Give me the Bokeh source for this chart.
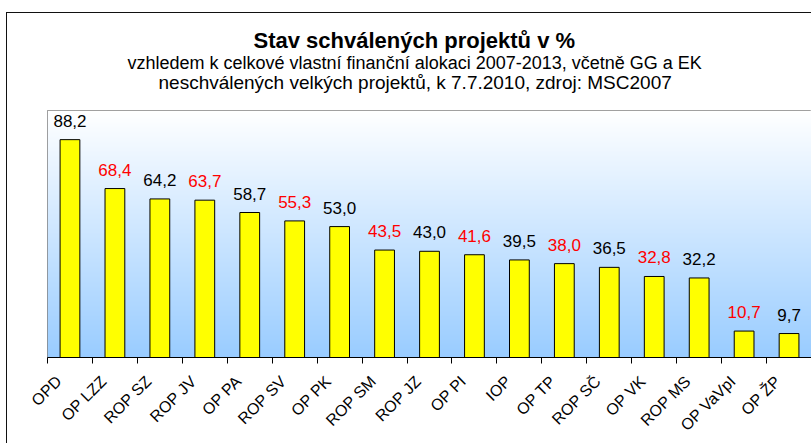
import numpy as np
from bokeh.plotting import figure
from bokeh.models import (Range1d, FixedTicker, Title, InlineStyleSheet,
                          CustomJSTickFormatter, ColumnDataSource)
from bokeh.core.properties import value
from bokeh.embed import file_html
from bokeh.resources import INLINE

# ---------------- data ----------------
categories = ["OPD", "OP LZZ", "ROP SZ", "ROP JV", "OP PA", "ROP SV", "OP PK",
              "ROP SM", "ROP JZ", "OP PI", "IOP", "OP TP", "ROP SČ", "OP VK",
              "ROP MS", "OP VaVpI", "OP ŽP"]
values = [88.2, 68.4, 64.2, 63.7, 58.7, 55.3, 53.0, 43.5, 43.0, 41.6, 39.5,
          38.0, 36.5, 32.8, 32.2, 10.7, 9.7]
label_colors = ["black", "red", "black", "red", "black", "red", "black", "red",
                "black", "red", "black", "red", "black", "red", "black", "red",
                "black"]
title_text = "Stav schválených projektů v %"
subtitle_1 = "vzhledem k celkové vlastní finanční alokaci 2007-2013, včetně GG a EK"
subtitle_2 = "neschválených velkých projektů, k 7.7.2010, zdroj: MSC2007"

# ---------------- layout ----------------
W, H = 811, 443
FL, FB, FR = 47, 86, -2
frame_w = W - FL - FR
cat_px = 45.06
x_end = frame_w / cat_px - 0.5
label_shift = -0.25

xs = list(range(len(categories)))
text_labels = [f"{v:.1f}".replace(".", ",") for v in values]
src = ColumnDataSource(dict(x=xs, top=values, txt=text_labels, color=label_colors))

box_css = InlineStyleSheet(css="""
:host::after {
  content: '';
  position: absolute;
  left: 6px; top: 12px; width: 2000px; height: 2000px;
  border-left: 1.5px solid #111; border-top: 1.5px solid #111;
  pointer-events: none;
}
""")

p = figure(width=W, height=H, output_backend="svg", toolbar_location=None,
           x_range=Range1d(-0.5, x_end), y_range=Range1d(0, 100),
           min_border_left=FL, min_border_right=FR, min_border_top=0,
           min_border_bottom=FB, background_fill_color="white",
           border_fill_color="white", outline_line_color="#808080",
           stylesheets=[box_css])

# gradient background (white at top -> light blue at bottom)
n = 256
t = np.linspace(0.0, 1.0, n)[:, None]  # 0 bottom, 1 top
bot = np.array([153, 204, 255])
topc = np.array([255, 255, 255])
rgb = (bot[None, :] * (1 - t) + topc[None, :] * t).round().astype(np.uint8)
img = np.zeros((n, 1), dtype=np.uint32)
view = img.view(dtype=np.uint8).reshape((n, 1, 4))
view[:, 0, 0] = rgb[:, 0]
view[:, 0, 1] = rgb[:, 1]
view[:, 0, 2] = rgb[:, 2]
view[:, 0, 3] = 255
p.image_rgba(image=[img], x=-0.5, y=0, dw=len(categories), dh=100, level="underlay")

p.vbar(x="x", top="top", width=0.44, source=src, fill_color="#FFFF00",
       line_color="black", line_width=1)

p.text(x="x", y="top", text="txt", source=src, text_color="color",
       text_align="center", text_baseline="alphabetic", y_offset=-19,
       text_font=value("Liberation Sans"), text_font_size="17px")

p.yaxis.visible = False
p.xgrid.visible = False
p.ygrid.visible = False

ax = p.xaxis[0]
ax.ticker = FixedTicker(ticks=[x + label_shift for x in xs],
                        minor_ticks=[x - 0.5 for x in range(len(categories) + 1)])
ax.formatter = CustomJSTickFormatter(args=dict(labels=categories, shift=label_shift),
                                     code="return labels[Math.round(tick - shift)];")
ax.major_label_orientation = np.pi / 4
ax.major_tick_line_color = None
ax.major_tick_out = 0
ax.major_tick_in = 0
ax.minor_tick_line_color = "black"
ax.minor_tick_out = 6
ax.minor_tick_in = 0
ax.axis_line_color = "black"
ax.major_label_standoff = 15
ax.major_label_text_font = "Liberation Sans"
ax.major_label_text_font_size = "16px"
ax.major_label_text_color = "black"

# titles (stacked above the frame; first added = nearest the frame)
p.add_layout(Title(text=" ", standoff=6, text_font_size="10px"), "above")
p.add_layout(Title(text=subtitle_2, align="left", offset=111, standoff=-3,
                   text_font="Liberation Sans", text_font_style="normal",
                   text_font_size="19px", text_color="black"), "above")
p.add_layout(Title(text=subtitle_1, align="left", offset=80, standoff=-2,
                   text_font="Liberation Sans", text_font_style="normal",
                   text_font_size="18px", text_color="black"), "above")
p.add_layout(Title(text=title_text, align="left", offset=206, standoff=-2,
                   text_font="Liberation Sans", text_font_style="bold",
                   text_font_size="22px", text_color="black"), "above")
p.add_layout(Title(text=" ", standoff=13, text_font_size="10px"), "above")

open("out.html", "w").write(file_html(p, INLINE))
